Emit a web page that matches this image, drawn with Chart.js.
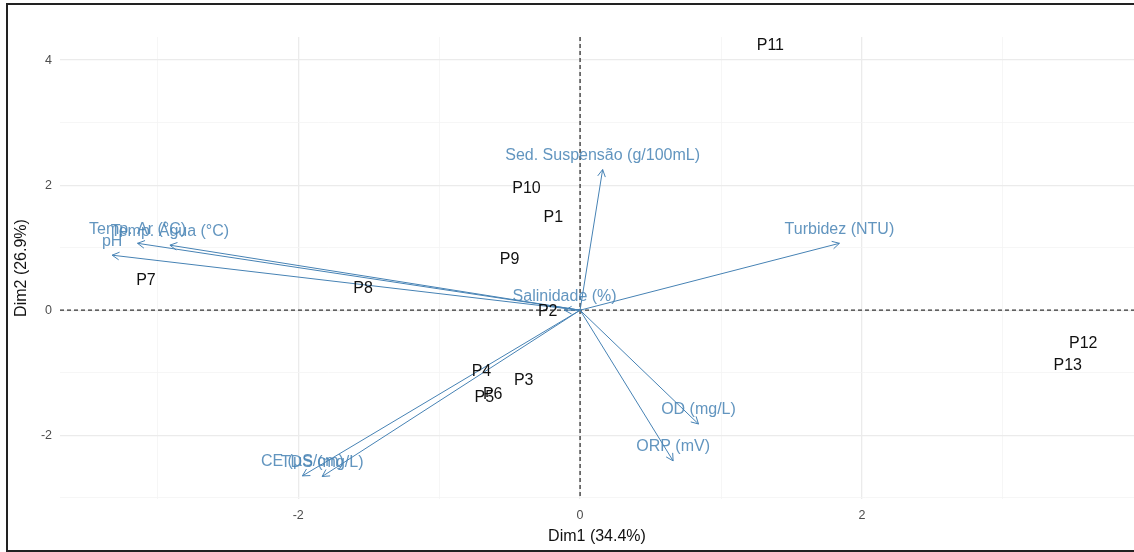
<!DOCTYPE html>
<html>
<head>
<meta charset="utf-8">
<script src="https://cdn.jsdelivr.net/npm/chart.js@4.4.0/dist/chart.umd.min.js"></script>
<style>
  html, body { margin: 0; padding: 0; background: #fff; }
  #wrap { position: relative; width: 1134px; height: 552px; }
</style>
</head>
<body>
<div id="wrap"><canvas id="biplot" width="1134" height="552"></canvas></div>
<script>
// individuals (coordinates on Dim1 / Dim2)
const pointLabels = ['P1', 'P2', 'P3', 'P4', 'P5', 'P6', 'P7', 'P8', 'P9', 'P10', 'P11', 'P12', 'P13'];
const pointDim1 = [-0.19, -0.23, -0.40, -0.70, -0.68, -0.62, -3.08, -1.54, -0.50, -0.38, 1.35, 3.57, 3.46];
const pointDim2 = [1.48, -0.03, -1.13, -0.99, -1.40, -1.35, 0.48, 0.35, 0.81, 1.94, 4.24, -0.54, -0.88];

// variables (arrow tips)
const varLabels = ['Temp. Ar (°C)', 'Temp. Água (°C)', 'pH', 'Salinidade (%)', 'Sed. Suspensão (g/100mL)',
    'Turbidez (NTU)', 'OD (mg/L)', 'ORP (mV)', 'CE (µS/cm)', 'TDS (mg/L)'];
const varDim1 = [-3.14, -2.91, -3.32, -0.11, 0.16, 1.84, 0.84, 0.66, -1.97, -1.83];
const varDim2 = [1.07, 1.04, 0.88, 0.00, 2.25, 1.07, -1.82, -2.41, -2.65, -2.66];

const xTicks = [-3, -2, -1, 0, 1, 2, 3];
const yTicks = [-3, -2, -1, 0, 1, 2, 3, 4];

const varColor = '#4682B4';
const fontFamily = '"Liberation Sans", Arial, sans-serif';
Chart.defaults.font.family = fontFamily;

// build datasets: one for the individuals, one line per variable arrow
const datasets = [{
    label: 'individuos',
    data: pointLabels.map((p, i) => ({ x: pointDim1[i], y: pointDim2[i] })),
    pointRadius: 0
}];
varLabels.forEach(function (name, i) {
    datasets.push({
        label: name,
        data: [{ x: 0, y: 0 }, { x: varDim1[i], y: varDim2[i] }],
        showLine: true,
        borderColor: varColor,
        borderWidth: 1,
        pointRadius: 0
    });
});

const biplotExtras = {
    id: 'biplotExtras',
    beforeDatasetsDraw(chart) {
        const { ctx, chartArea, scales: { x, y } } = chart;
        const x0 = x.getPixelForValue(0);
        const y0 = y.getPixelForValue(0);
        ctx.save();
        ctx.strokeStyle = '#333';
        ctx.lineWidth = 1.3;
        ctx.setLineDash([4, 3]);
        ctx.beginPath();
        ctx.moveTo(x0, chartArea.top);
        ctx.lineTo(x0, chartArea.bottom);
        ctx.moveTo(chartArea.left, y0);
        ctx.lineTo(chartArea.right, y0);
        ctx.stroke();
        ctx.restore();
    },
    afterDatasetsDraw(chart) {
        const { ctx, scales: { x, y } } = chart;
        const x0 = x.getPixelForValue(0);
        const y0 = y.getPixelForValue(0);
        ctx.save();
        // arrow heads
        ctx.strokeStyle = varColor;
        ctx.lineWidth = 1;
        varLabels.forEach(function (name, i) {
            const px = x.getPixelForValue(varDim1[i]);
            const py = y.getPixelForValue(varDim2[i]);
            const ang = Math.atan2(py - y0, px - x0);
            const len = 8;
            ctx.beginPath();
            ctx.moveTo(px - len * Math.cos(ang - 0.5), py - len * Math.sin(ang - 0.5));
            ctx.lineTo(px, py);
            ctx.lineTo(px - len * Math.cos(ang + 0.5), py - len * Math.sin(ang + 0.5));
            ctx.stroke();
        });
        // variable labels, a little above the tip
        ctx.font = '16px ' + fontFamily;
        ctx.textAlign = 'center';
        ctx.textBaseline = 'middle';
        ctx.fillStyle = 'rgba(70,130,180,0.85)';
        varLabels.forEach(function (name, i) {
            ctx.fillText(name, x.getPixelForValue(varDim1[i]), y.getPixelForValue(varDim2[i]) - 14);
        });
        // individuals
        ctx.fillStyle = '#111';
        pointLabels.forEach(function (p, i) {
            ctx.fillText(p, x.getPixelForValue(pointDim1[i]), y.getPixelForValue(pointDim2[i]));
        });
        ctx.restore();
    },
    afterDraw(chart) {
        const ctx = chart.ctx;
        ctx.save();
        ctx.strokeStyle = '#222';
        ctx.lineWidth = 2;
        ctx.strokeRect(7, 4, 1140, 547);
        ctx.restore();
    }
};

function gridColor(c) {
    return c.tick && c.tick.value % 2 === 0 ? '#EBEBEB' : '#F4F4F4';
}
function gridWidth(c) {
    return c.tick && c.tick.value % 2 === 0 ? 1.3 : 0.8;
}

new Chart(document.getElementById('biplot').getContext('2d'), {
    type: 'scatter',
    data: { datasets: datasets },
    options: {
        responsive: false,
        animation: false,
        events: [],
        layout: { padding: { top: 37, right: 0, left: 0, bottom: 0 } },
        plugins: { legend: { display: false }, tooltip: { enabled: false } },
        scales: {
            x: {
                type: 'linear',
                min: -3.69,
                max: 3.93,
                afterBuildTicks: function (scale) { scale.ticks = xTicks.map(v => ({ value: v })); },
                afterFit: function (scale) { scale.height = 53; },
                border: { display: false },
                grid: { color: gridColor, lineWidth: gridWidth, drawTicks: false },
                ticks: {
                    color: '#4D4D4D',
                    font: { size: 12.5 },
                    padding: 9,
                    maxRotation: 0,
                    autoSkip: false,
                    callback: v => (v % 2 === 0 ? String(v) : '')
                },
                title: {
                    display: true,
                    text: 'Dim1 (34.4%)',
                    color: '#111',
                    font: { size: 16 },
                    padding: { top: 0, bottom: 6 }
                }
            },
            y: {
                type: 'linear',
                min: -3.02,
                max: 4.37,
                afterBuildTicks: function (scale) { scale.ticks = yTicks.map(v => ({ value: v })); },
                afterFit: function (scale) { scale.width = 60; },
                border: { display: false },
                grid: { color: gridColor, lineWidth: gridWidth, drawTicks: false },
                ticks: {
                    color: '#4D4D4D',
                    font: { size: 12.5 },
                    padding: 8,
                    autoSkip: false,
                    callback: v => (v % 2 === 0 ? String(v) : '')
                },
                title: {
                    display: true,
                    text: 'Dim2 (26.9%)',
                    color: '#111',
                    font: { size: 16 },
                    padding: { top: 12, bottom: 0 }
                }
            }
        }
    },
    plugins: [biplotExtras]
});
</script>
</body>
</html>
